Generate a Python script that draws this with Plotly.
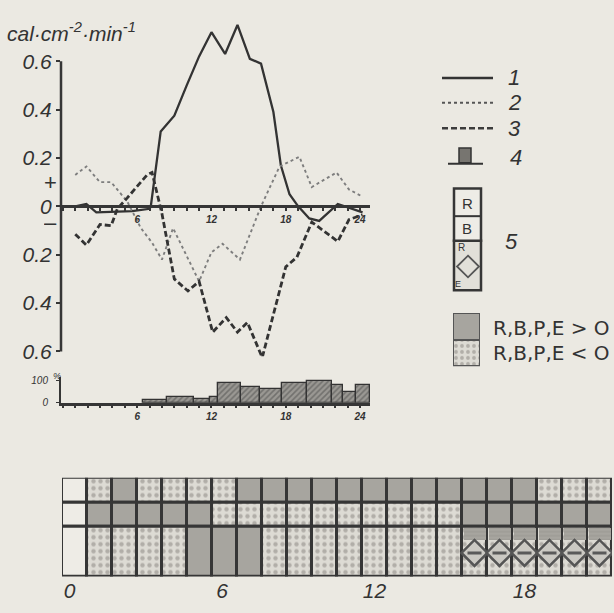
import plotly.graph_objects as go

W, H = 614, 613
BG = '#ebe9e2'
INK = '#363636'

# ---------------- data ----------------
# curve 1 (solid)
hours_1 = [1.0, 1.9, 2.7, 5.6, 7.0, 7.1, 7.9, 9.0, 10.0, 11.0, 12.0, 13.1, 14.1, 15.1, 16.0,
           17.0, 17.6, 18.3, 19.0, 19.9, 20.7, 22.2, 24.2]
curve_1 = [0.0, 0.01, -0.025, -0.02, -0.01, 0.0, 0.31, 0.375, 0.50, 0.62, 0.72, 0.63, 0.75, 0.61, 0.59,
           0.39, 0.17, 0.05, 0.0, -0.05, -0.06, 0.01, -0.025]
# curve 2 (dotted)
hours_2 = [1.0, 1.9, 3.0, 3.9, 5.2, 6.3, 7.2, 8.0, 8.9, 11.0, 12.0, 12.9, 14.3, 16.0, 17.5,
           19.1, 20.1, 22.1, 23.1, 24.2]
curve_2 = [0.13, 0.165, 0.10, 0.10, 0.02, -0.09, -0.15, -0.22, -0.09, -0.31, -0.19, -0.155, -0.22, 0.0, 0.165,
           0.205, 0.08, 0.14, 0.07, 0.04]
# curve 3 (dashed)
hours_3 = [1.0, 1.9, 3.0, 3.9, 4.4, 5.2, 6.8, 7.2, 8.0, 9.0, 10.1, 11.0, 12.1, 13.2, 14.1, 14.9,
           16.1, 18.0, 18.9, 20.1, 22.2, 23.1, 24.2]
curve_3 = [-0.115, -0.16, -0.075, -0.08, -0.01, 0.035, 0.13, 0.14, -0.03, -0.30, -0.35, -0.31, -0.52, -0.46, -0.52, -0.48,
           -0.625, -0.25, -0.21, -0.065, -0.145, -0.055, -0.035]
# 4: histogram (%)
hist_start = [6.5, 8.4, 10.6, 11.9, 12.5, 14.4, 15.9, 17.7, 19.7, 21.7, 22.6, 23.7]
hist_end = [8.4, 10.6, 11.9, 12.5, 14.4, 15.9, 17.7, 19.7, 21.7, 22.6, 23.7, 24.8]
hist_pct = [12, 26, 15, 26, 91, 71, 61, 91, 100, 80, 50, 83]

# 5: hourly sign grid (0 = none, 1 = < 0 dotted, 2 = > 0 grey)
grid_hours = list(range(22))
row_R = [0, 1, 2, 1, 1, 1, 1, 2, 2, 2, 2, 2, 2, 2, 2, 2, 2, 2, 2, 1, 1, 1]
row_B = [0, 2, 2, 2, 2, 2, 1, 1, 1, 1, 1, 1, 1, 1, 1, 1, 2, 2, 2, 2, 2, 2]
row_P = [0, 1, 1, 1, 1, 2, 2, 2, 1, 1, 1, 1, 1, 1, 1, 1, 1, 1, 1, 1, 1, 1]
row_P_strip = [0] * 16 + [1] * 6
row_E = [0] * 16 + [-1] * 6

x_ticks_main = list(range(0, 25))
x_labels_main = {6: '6', 12: '12', 18: '18', 24: '24'}
y_ticks_main = [0.6, 0.4, 0.2, 0, -0.2, -0.4, -0.6]
y_labels_main = ['0.6', '0.4', '0.2', '0', '0.2', '0.4', '0.6']
sign_ticks = [0.1, -0.065]
sign_labels = ['+', '–']
grid_tick_labels = ['0', '6', '12', '18']

# ---------------- helpers ----------------
def fx(px):
    return px / W

def fy(py):
    return 1 - py / H

COL_BLANK = '#eeece6'
COL_DOT_BG = '#dddbd4'
COL_DOT_FG = '#85827c'
COL_GREY = '#a7a59f'
FONT = 'Liberation Sans, Arial, sans-serif'
FONT_UP = 'DejaVu Sans, sans-serif'

fig = go.Figure()

# main curves
fig.add_trace(go.Scatter(x=hours_1, y=curve_1, mode='lines',
                         line=dict(color='#333333', width=2.3), xaxis='x', yaxis='y'))
fig.add_trace(go.Scatter(x=hours_2, y=curve_2, mode='lines',
                         line=dict(color='#7e7e7e', width=1.9, dash='dot'), xaxis='x', yaxis='y'))
fig.add_trace(go.Scatter(x=hours_3, y=curve_3, mode='lines',
                         line=dict(color='#333333', width=2.8, dash='6px,3px'), xaxis='x', yaxis='y'))

# histogram
mids = [(a + b) / 2 for a, b in zip(hist_start, hist_end)]
widths = [b - a for a, b in zip(hist_start, hist_end)]
fig.add_trace(go.Bar(x=mids, y=hist_pct, width=widths, xaxis='x3', yaxis='y3',
                     marker=dict(color='#8c8a85',
                                 pattern=dict(shape='/', fgcolor='#4a4a4a', bgcolor='#9a9893',
                                              size=4, solidity=0.4, fillmode='overlay'),
                                 line=dict(color='#333333', width=1.3))))

# grid
def cell_marker(cat):
    if cat == 0:
        return dict(color=COL_BLANK, line=dict(color=INK, width=3))
    if cat == 1:
        return dict(color=COL_DOT_BG,
                    pattern=dict(shape='.', fgcolor=COL_DOT_FG, bgcolor=COL_DOT_BG,
                                 size=7, solidity=0.32, fillmode='overlay'),
                    line=dict(color=INK, width=3))
    return dict(color=COL_GREY, line=dict(color=INK, width=3))

rows = [(row_R, 3, 1), (row_B, 2, 1), (row_P, 0, 2)]
for row, base, height in rows:
    for cat in (0, 1, 2):
        xs = [h + 0.5 for h, v in zip(grid_hours, row) if v == cat]
        if not xs:
            continue
        fig.add_trace(go.Bar(x=xs, y=[height] * len(xs), base=[base] * len(xs), width=1,
                             marker=cell_marker(cat), xaxis='x4', yaxis='y4'))

xs_strip = [h + 0.5 for h, v in zip(grid_hours, row_P_strip) if v == 1]
fig.add_trace(go.Bar(x=xs_strip, y=[0.48] * len(xs_strip), base=[1.5] * len(xs_strip), width=0.88,
                     marker=dict(color=COL_GREY,
                                 pattern=dict(shape='-', fgcolor='#8a8883', bgcolor=COL_GREY,
                                              size=4, solidity=0.25, fillmode='overlay'),
                                 line=dict(width=0)),
                     xaxis='x4', yaxis='y4'))
xs_e = [h + 0.5 for h, v in zip(grid_hours, row_E) if v == -1]
fig.add_trace(go.Scatter(x=xs_e, y=[0.95] * len(xs_e), mode='markers', xaxis='x4', yaxis='y4',
                         marker=dict(symbol='diamond', size=20, color='#cbc9c3',
                                     line=dict(color='#555555', width=2.5))))
fig.add_trace(go.Scatter(x=xs_e, y=[0.95] * len(xs_e), mode='markers', xaxis='x4', yaxis='y4',
                         marker=dict(symbol='line-ew', size=10,
                                     line=dict(color='#5a5a5a', width=3))))

# legend patches (> 0 grey, < 0 dotted)
fig.add_trace(go.Bar(x=[0.5], y=[1], base=[1], width=1, xaxis='x5', yaxis='y5',
                     marker=dict(color=COL_GREY, line=dict(color='#555555', width=2))))
fig.add_trace(go.Bar(x=[0.5], y=[1], base=[0], width=1, xaxis='x5', yaxis='y5',
                     marker=dict(color=COL_DOT_BG,
                                 pattern=dict(shape='.', fgcolor=COL_DOT_FG, bgcolor=COL_DOT_BG,
                                              size=6, solidity=0.32, fillmode='overlay'),
                                 line=dict(color='#555555', width=2))))

ital = dict(family=FONT, color='#333333', style='italic')

fig.update_layout(
    width=W, height=H, margin=dict(l=0, r=0, t=0, b=0),
    paper_bgcolor=BG, plot_bgcolor='rgba(0,0,0,0)',
    showlegend=False, barmode='overlay', bargap=0, hovermode=False,
    xaxis=dict(domain=[fx(61), fx(370)], range=[-0.15, 24.8], anchor='free', position=fy(207),
               showline=True, linecolor=INK, linewidth=2.5, ticks='outside', ticklen=3,
               tickwidth=1.5, tickcolor=INK,
               tickvals=x_ticks_main, ticktext=[x_labels_main.get(v, '') for v in x_ticks_main],
               tickfont=dict(ital, size=10, weight='bold'), showgrid=False, zeroline=False),
    yaxis=dict(domain=[fy(359), fy(11)], range=[-0.62, 0.80], anchor='x',
               showline=False, ticks='outside', ticklen=4, tickwidth=2, tickcolor=INK,
               tickvals=y_ticks_main, ticktext=y_labels_main,
               tickfont=dict(ital, size=21), showgrid=False, zeroline=False),
    xaxis3=dict(domain=[fx(61), fx(370)], range=[-0.15, 24.8], anchor='y3',
                showline=True, linecolor=INK, linewidth=2.5, ticks='outside', ticklen=3,
                tickwidth=1.5, tickcolor=INK,
                tickvals=x_ticks_main, ticktext=[x_labels_main.get(v, '') for v in x_ticks_main],
                tickfont=dict(ital, size=10, weight='bold'), showgrid=False, zeroline=False),
    yaxis3=dict(domain=[fy(406), fy(380)], range=[0, 118], anchor='x3',
                showline=True, linecolor=INK, linewidth=2, ticks='outside', ticklen=3,
                tickcolor=INK, tickvals=[0, 100], ticktext=['0', '100'], ticklabelstandoff=6,
                tickfont=dict(ital, size=10), showgrid=False, zeroline=False),
    xaxis4=dict(domain=[fx(62), fx(612)], range=[0, 22], anchor='y4',
                showline=False, ticks='', tickvals=[0.3, 6.4, 12.5, 18.5], ticktext=grid_tick_labels,
                tickfont=dict(ital, size=21), showgrid=False, zeroline=False),
    yaxis4=dict(domain=[fy(582), fy(482)], range=[0, 4], anchor='x4', visible=False),
    xaxis5=dict(domain=[fx(453), fx(480)], range=[0, 1], anchor='y5', visible=False),
    yaxis5=dict(domain=[fy(369), fy(315)], range=[0, 2], anchor='x5', visible=False),
)

shapes = []
# main y axis line
shapes.append(dict(type='line', xref='x domain', x0=0, x1=0, yref='y', y0=-0.6, y1=0.6,
                   line=dict(color=INK, width=2.5)))
# legend samples 1-4
shapes.append(dict(type='line', xref='paper', yref='paper', x0=fx(442), x1=fx(493), y0=fy(77), y1=fy(77),
                   line=dict(color='#333333', width=2.3)))
shapes.append(dict(type='line', xref='paper', yref='paper', x0=fx(442), x1=fx(493), y0=fy(102), y1=fy(102),
                   line=dict(color='#555555', width=2, dash='dot')))
shapes.append(dict(type='line', xref='paper', yref='paper', x0=fx(442), x1=fx(493), y0=fy(128), y1=fy(128),
                   line=dict(color='#3c3c3c', width=2.5, dash='6px,3px')))
shapes.append(dict(type='rect', xref='paper', yref='paper', x0=fx(459), x1=fx(471), y0=fy(163), y1=fy(148),
                   fillcolor='#777570', line=dict(color='#333333', width=1.5)))
shapes.append(dict(type='line', xref='paper', yref='paper', x0=fx(448), x1=fx(483), y0=fy(164), y1=fy(164),
                   line=dict(color='#333333', width=2)))
# legend 5 box
shapes.append(dict(type='rect', xref='paper', yref='paper', x0=fx(454), x1=fx(481), y0=fy(292), y1=fy(242),
                   fillcolor='#e2e0d9', line=dict(color=INK, width=2.5)))
shapes.append(dict(type='rect', xref='paper', yref='paper', x0=fx(454), x1=fx(481), y0=fy(242), y1=fy(189),
                   fillcolor='#eeece6', line=dict(color=INK, width=2.5)))
shapes.append(dict(type='line', xref='paper', yref='paper', x0=fx(454), x1=fx(481), y0=fy(217), y1=fy(217),
                   line=dict(color=INK, width=2)))
cx, cy, r = 468, 268, 11
shapes.append(dict(type='path', xref='paper', yref='paper',
                   path=f'M {fx(cx)} {fy(cy - r)} L {fx(cx + r)} {fy(cy)} L {fx(cx)} {fy(cy + r)} L {fx(cx - r)} {fy(cy)} Z',
                   line=dict(color='#555555', width=1.8)))
fig.update_layout(shapes=shapes)

ann = []
def text(px, py, s, size, xanchor='center', italic=True, color='#333333', family=FONT):
    ann.append(dict(xref='paper', yref='paper', x=fx(px), y=fy(py), text=s, showarrow=False,
                    xanchor=xanchor, yanchor='middle',
                    font=dict(family=family, size=size, color=color,
                              style='italic' if italic else 'normal')))

# + / – sign labels on the main value axis (compact boxes so they do not collide with "0")
for v, s, hgt in zip(sign_ticks, sign_labels, [14, 8]):
    ann.append(dict(xref='x domain', yref='y', x=0, y=v, text=s, showarrow=False,
                    xanchor='right', yanchor='middle', xshift=-2, height=hgt, valign='middle',
                    font=dict(family=FONT, size=22, color='#333333')))

text(5, 30, 'cal·cm<sup>-2</sup>·min<sup>-1</sup>', 21, xanchor='left')
text(57, 379, '%', 9)
text(514, 77, '1', 22)
text(514, 102, '2', 22)
text(514, 128, '3', 22)
text(516, 158, '4', 22)
text(511, 243, '5', 22)
text(467, 204, 'R', 15, italic=False)
text(467, 230, 'B', 15, italic=False)
text(461, 249, 'R', 10, italic=False)
text(458, 286, 'E', 9, italic=False)
text(491, 330, 'R,B,P,E > O', 20, xanchor='left', italic=False, family=FONT_UP)
text(491, 356, 'R,B,P,E < O', 20, xanchor='left', italic=False, family=FONT_UP)
fig.update_layout(annotations=ann)

fig.write_html('out.html', config={'displayModeBar': False},
               post_script="document.body.style.margin='0';document.body.style.overflow='hidden';")
